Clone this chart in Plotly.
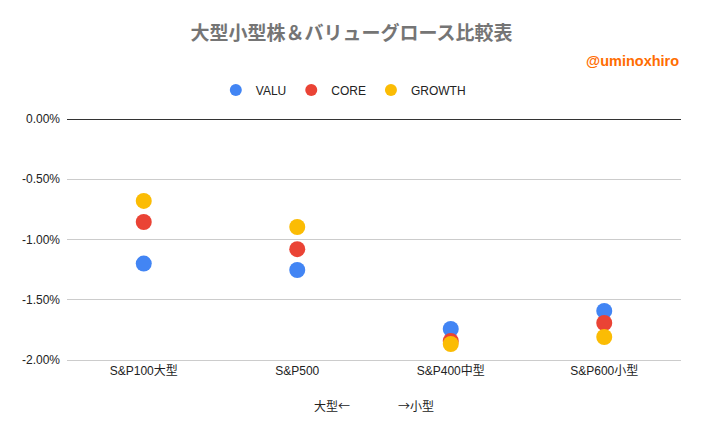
import plotly.graph_objects as go

# Data
categories = ['S&P100大型', 'S&P500', 'S&P400中型', 'S&P600小型']
valu = [-0.0120, -0.01253, -0.01743, -0.01593]
core = [-0.00855, -0.0108, -0.01842, -0.01693]
growth = [-0.0068, -0.00896, -0.01867, -0.01809]

y_ticks = [0, -0.005, -0.01, -0.015, -0.02]
y_ticklabels = ['%.2f%%' % (v * 100) if v else '0.00%' for v in y_ticks]

font_family = "Arial, 'Liberation Sans', 'Noto Sans CJK JP', sans-serif"

fig = go.Figure()
for name, vals, color in [('VALU', valu, '#4285F4'),
                          ('CORE', core, '#EA4335'),
                          ('GROWTH', growth, '#FBBC04')]:
    fig.add_trace(go.Scatter(
        x=categories, y=vals, name=name, mode='markers',
        marker=dict(size=16, color=color, line=dict(width=0)),
    ))

# the page body adds an 8px margin, so offsets are shifted back by 8
fig.update_layout(
    width=703, height=435,
    paper_bgcolor='white', plot_bgcolor='white',
    margin=dict(l=59, r=30, t=111, b=83),
    font=dict(family=font_family, size=12, color='#222222'),
    title=dict(text='<b>大型小型株＆バリューグロース比較表</b>',
               x=343.5 / 703, xanchor='center', y=1 - 25 / 435, yanchor='middle',
               font=dict(size=19, color='#757575')),
    legend=dict(orientation='h', x=0.45, xanchor='center',
                y=1.12, yanchor='middle', font=dict(size=12, color='#222222'),
                itemwidth=30, itemsizing='constant'),
    showlegend=True,
)

fig.add_annotation(text='<b>@uminoxhiro</b>', xref='paper', yref='paper',
                   x=1, y=1.24, xanchor='right', yanchor='middle',
                   showarrow=False, font=dict(size=14.5, color='#FF6D01'))

fig.update_xaxes(
    type='category', range=[-0.5, 3.5],
    showgrid=False, showline=True, linecolor='#CCCCCC', linewidth=1,
    ticks='', tickfont=dict(size=12, color='#222222'),
    title=dict(text='大型←　　　　→小型', standoff=25,
               font=dict(size=12, color='#222222',
                         family="'Noto Sans CJK JP', sans-serif")),
)
fig.update_yaxes(
    range=[-0.02, 0], tickvals=y_ticks, ticktext=y_ticklabels,
    showgrid=True, gridcolor='#CCCCCC', gridwidth=1,
    zeroline=True, zerolinecolor='#333333', zerolinewidth=1,
    ticks='', tickfont=dict(size=12, color='#222222'),
    ticklabelstandoff=6,
)

fig.write_html("out.html")
